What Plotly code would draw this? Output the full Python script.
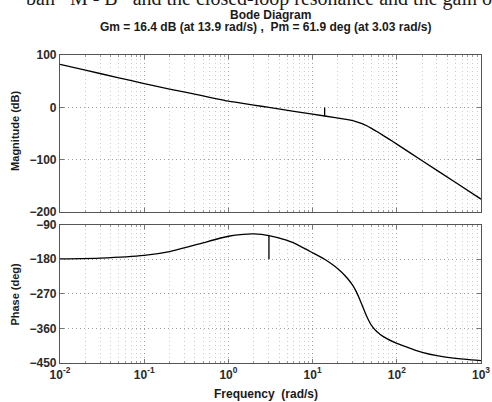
import plotly.graph_objects as go

# ---- data ----
mag_freq = [0.01, 0.02, 0.05, 0.1, 0.2, 0.5, 1, 2, 3.03, 6, 13.9, 25, 32, 38, 44, 50, 60, 80,
            100, 200, 500, 1000]
mag_db = [82, 71, 56.5, 45.5, 35, 22, 12, 4.5, 0, -7.5, -16.4, -23, -26.5, -30.5, -35, -40, -47.5, -60,
          -70, -101.6, -143.4, -175]

ph_freq = [0.01, 0.03, 0.1, 0.2, 0.5, 1, 1.5, 2, 3.03, 5, 7, 10, 13.9, 18, 22, 26, 30, 34, 38,
           44, 50, 57.7, 70, 100, 150, 206, 300, 500, 1000]
ph_deg = [-179, -177, -170, -160, -137, -120, -115, -114, -118.1, -131, -145, -163, -180, -197,
          -213, -230, -248, -270, -295, -329, -352, -368, -382, -399, -413, -423, -431, -438, -444]

gm_freq = [13.9, 13.9]
gm_db = [0, -16.4]
pm_freq = [3.03, 3.03]
pm_deg = [-180, -118.1]

x_tickvals = [0.01, 0.1, 1, 10, 100, 1000]
x_ticktext = ["10<sup>-2</sup>", "10<sup>-1</sup>", "10<sup>0</sup>", "10<sup>1</sup>",
              "10<sup>2</sup>", "10<sup>3</sup>"]
mag_ticks = [100, 0, -100, -200]
ph_ticks = [-90, -180, -270, -360, -450]

title_text = "Bode Diagram"
subtitle_text = "Gm = 16.4 dB (at 13.9 rad/s) ,  Pm = 61.9 deg (at 3.03 rad/s)"
top_line_text = "ban   M - B   and the closed-loop resonance and the gain on g"

# ---- figure ----
FONT = "Liberation Sans, Arial, sans-serif"
TXT = "#1a1a1a"
line_style = dict(color="black", width=1.3)

fig = go.Figure()
fig.add_trace(go.Scatter(x=mag_freq, y=mag_db, mode="lines", line=dict(shape="spline", smoothing=0.5, **line_style),
                         xaxis="x", yaxis="y", showlegend=False, hoverinfo="skip"))
fig.add_trace(go.Scatter(x=gm_freq, y=gm_db, mode="lines", line=line_style,
                         xaxis="x", yaxis="y", showlegend=False, hoverinfo="skip"))
fig.add_trace(go.Scatter(x=ph_freq, y=ph_deg, mode="lines", line=dict(shape="spline", smoothing=0.4, **line_style),
                         xaxis="x2", yaxis="y2", showlegend=False, hoverinfo="skip"))
fig.add_trace(go.Scatter(x=pm_freq, y=pm_deg, mode="lines", line=line_style,
                         xaxis="x2", yaxis="y2", showlegend=False, hoverinfo="skip"))

tickfont = dict(family=FONT, size=12, color="#2a2a2a", weight="bold")
minor = dict(dtick="D1", showgrid=True, gridcolor="#cccccc", griddash="1px,3px", gridwidth=1,
             ticks="inside", ticklen=2, tickcolor="#999")

xcommon = dict(type="log", range=[-2, 3], tickmode="array", tickvals=x_tickvals, ticktext=x_ticktext,
               showgrid=True, gridcolor="#a0a0a0", griddash="1px,3px", gridwidth=1,
               showline=True, linecolor="#555", linewidth=1.2, mirror="ticks",
               ticks="inside", ticklen=4, tickcolor="#777", minor=minor, tickfont=tickfont,
               zeroline=False, automargin=False)
ycommon = dict(tickmode="array", showgrid=True, gridcolor="#a0a0a0", griddash="1px,3px", gridwidth=1,
               showline=True, linecolor="#555", linewidth=1.2, mirror="ticks",
               ticks="inside", ticklen=4, tickcolor="#777", tickfont=tickfont, zeroline=False,
               automargin=False)

W, H = 492, 402
L, R, T, B = 60, 11, 55, 38.5
ph = H - T - B
top_dom = [1 - 157.5 / ph, 1]
bot_dom = [0, 138.5 / ph]

fig.update_layout(
    width=W, height=H,
    margin=dict(l=L, r=R, t=T, b=B, pad=0, autoexpand=False),
    paper_bgcolor="white", plot_bgcolor="white",
    xaxis=dict(anchor="y", showticklabels=False, **xcommon),
    xaxis2=dict(anchor="y2", matches="x", **xcommon),
    yaxis=dict(domain=top_dom, anchor="x", range=[-200, 100], tickvals=mag_ticks, **ycommon),
    yaxis2=dict(domain=bot_dom, anchor="x2", range=[-450, -90], tickvals=ph_ticks, **ycommon),
    font=dict(family=FONT, color=TXT),
)

lab = dict(family=FONT, size=12, color=TXT, weight="bold")
px_x = lambda p: (p - L) / (W - L - R)
fig.add_annotation(text=title_text, xref="paper", yref="paper", x=0.5, y=1, yshift=40,
                   showarrow=False, font=lab, xanchor="center", yanchor="middle")
fig.add_annotation(text=subtitle_text, xref="paper", yref="paper", x=px_x(265), y=1, yshift=28,
                   showarrow=False, font=lab, xanchor="center", yanchor="middle")
fig.add_annotation(text="Frequency  (rad/s)", xref="paper", yref="paper", x=px_x(265.5), y=0,
                   yshift=-(394 - (H - B)), showarrow=False, font=lab, xanchor="center", yanchor="middle")
fig.add_annotation(text="Magnitude (dB)", xref="paper", yref="paper", x=px_x(15), y=(H - B - 131) / ph,
                   textangle=-90, showarrow=False, font=dict(family=FONT, size=11, color=TXT, weight="bold"),
                   xanchor="center", yanchor="middle")
fig.add_annotation(text="Phase (deg)", xref="paper", yref="paper", x=px_x(15), y=(H - B - 295) / ph,
                   textangle=-90, showarrow=False, font=dict(family=FONT, size=11, color=TXT, weight="bold"),
                   xanchor="center", yanchor="middle")
# cropped line of document text at the very top
fig.add_annotation(text=top_line_text, xref="paper", yref="paper",
                   x=px_x(24), y=1, yshift=57, showarrow=False,
                   font=dict(family="Liberation Serif, serif", size=20, color=TXT),
                   xanchor="left", yanchor="middle")

fig.write_html("out.html", config={"displayModeBar": False},
               post_script="document.body.style.margin='0';document.body.style.overflow='hidden';")
